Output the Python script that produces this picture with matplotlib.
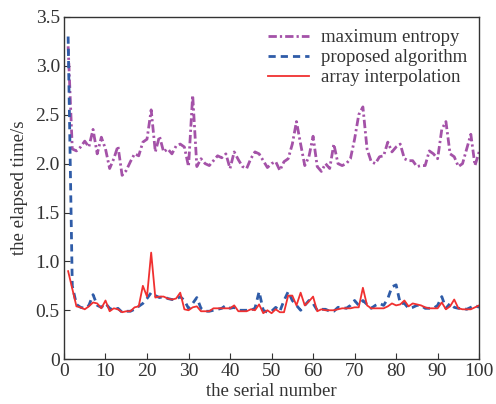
import numpy as np
import matplotlib.pyplot as plt

plt.rcParams['font.family'] = ['Liberation Serif', 'DejaVu Serif']

# serial number
n = np.arange(1, 101)

# maximum entropy
max_entropy = [3.2, 2.15, 2.13, 2.17, 2.23, 2.17, 2.35, 2.1, 2.27, 2.15,
               1.95, 2.05, 2.18, 1.88, 1.93, 2.02, 2.1, 2.08, 2.22, 2.25,
               2.55, 2.12, 2.28, 2.12, 2.15, 2.1, 2.18, 2.2, 2.17, 1.97,
               2.7, 1.97, 2.05, 2.0, 1.98, 2.03, 2.08, 2.06, 2.1, 1.95,
               2.12, 2.04, 1.97, 1.95, 2.05, 2.12, 2.1, 2.03, 1.96, 2.0,
               2.02, 1.93, 2.02, 2.05, 2.2, 2.43, 2.2, 1.98, 2.07, 2.28,
               1.97, 1.92, 2.0, 1.95, 2.2, 2.0, 1.98, 2.0, 2.05, 2.25,
               2.5, 2.58, 2.15, 2.02, 2.0, 2.07, 2.08, 2.22, 2.12, 2.17,
               2.2, 2.05, 2.03, 2.03, 1.97, 1.98, 1.98, 2.13, 2.1, 2.05,
               2.35, 2.43, 2.1, 2.07, 1.97, 2.0, 2.15, 2.3, 1.98, 2.12]

# proposed algorithm
proposed = [3.3, 0.75, 0.56, 0.53, 0.52, 0.55, 0.66, 0.55, 0.53, 0.57,
            0.52, 0.5, 0.52, 0.48, 0.49, 0.49, 0.51, 0.54, 0.57, 0.62,
            0.68, 0.65, 0.63, 0.64, 0.62, 0.61, 0.61, 0.64, 0.6, 0.52,
            0.57, 0.63, 0.52, 0.49, 0.49, 0.5, 0.51, 0.52, 0.55, 0.52,
            0.53, 0.5, 0.5, 0.5, 0.5, 0.52, 0.69, 0.5, 0.48, 0.49,
            0.53, 0.49, 0.6, 0.69, 0.6, 0.55, 0.5, 0.55, 0.6, 0.57,
            0.5, 0.51, 0.51, 0.49, 0.49, 0.53, 0.53, 0.52, 0.55, 0.6,
            0.55, 0.6, 0.56, 0.52, 0.55, 0.57, 0.55, 0.62, 0.74, 0.76,
            0.57, 0.57, 0.52, 0.53, 0.55, 0.55, 0.52, 0.52, 0.52, 0.55,
            0.64, 0.52, 0.57, 0.53, 0.52, 0.52, 0.51, 0.53, 0.55, 0.53]

# array interpolation
array_interp = [0.9, 0.72, 0.54, 0.53, 0.51, 0.54, 0.58, 0.57, 0.52, 0.6,
                0.49, 0.52, 0.51, 0.48, 0.49, 0.49, 0.53, 0.54, 0.75, 0.64,
                1.09, 0.63, 0.64, 0.64, 0.62, 0.61, 0.62, 0.68, 0.51, 0.5,
                0.53, 0.54, 0.49, 0.49, 0.49, 0.52, 0.52, 0.52, 0.52, 0.52,
                0.55, 0.49, 0.49, 0.49, 0.51, 0.5, 0.56, 0.47, 0.5, 0.47,
                0.51, 0.48, 0.48, 0.65, 0.65, 0.55, 0.68, 0.55, 0.59, 0.64,
                0.49, 0.51, 0.5, 0.5, 0.5, 0.51, 0.52, 0.52, 0.52, 0.53,
                0.53, 0.73, 0.55, 0.52, 0.52, 0.52, 0.52, 0.54, 0.57, 0.55,
                0.56, 0.6, 0.54, 0.57, 0.56, 0.55, 0.53, 0.52, 0.52, 0.52,
                0.58, 0.51, 0.54, 0.61, 0.52, 0.51, 0.51, 0.51, 0.53, 0.55]

fig = plt.figure(figsize=(4.96, 4.04), dpi=100)
ax = fig.add_axes([0.129, 0.111, 0.837, 0.847])

ax.plot(n, max_entropy, color='#a452a8', lw=2.0, dashes=(3, 1.1, 0.8, 1.1),
        label='maximum entropy')
ax.plot(n, proposed, color='#2f5ca8', lw=2.0, dashes=(2.6, 1.8),
        label='proposed algorithm')
ax.plot(n, array_interp, color='#f03030', lw=1.3, label='array interpolation')

ax.set_xlim(0, 100)
ax.set_ylim(0, 3.5)
ax.set_xticks(np.arange(0, 101, 10))
ax.set_yticks(np.arange(0, 3.6, 0.5))
ax.set_yticklabels(['0', '0.5', '1.0', '1.5', '2.0', '2.5', '3.0', '3.5'])
ax.tick_params(direction='in', labelsize=14, length=4, colors='#333333', pad=3)
for s in ax.spines.values():
    s.set_color('#333333')
    s.set_linewidth(1.0)

ax.set_xlabel('the serial number', fontsize=13.5, labelpad=2, color='#333333')
ax.set_ylabel('the elapsed time/s', fontsize=13.5, labelpad=5, color='#333333')

leg = ax.legend(loc='upper right', frameon=False, fontsize=13.5,
                handlelength=2.2, borderaxespad=0.25, labelspacing=0.15,
                handletextpad=0.6)
for t in leg.get_texts():
    t.set_color('#333333')

fig.savefig('out.png', dpi=100)
